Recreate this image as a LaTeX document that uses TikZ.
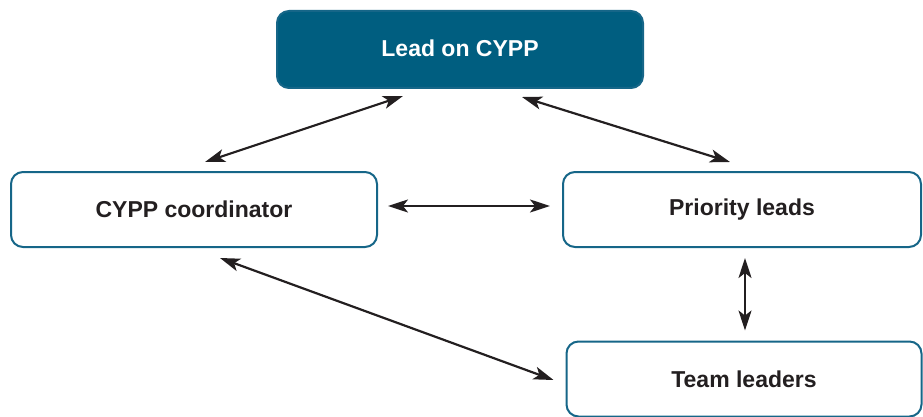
\documentclass[tikz,border=0pt]{standalone}
\usepackage{fontspec}
\setmainfont{Liberation Sans}
\usetikzlibrary{arrows.meta,calc}
\definecolor{teal}{RGB}{0,94,128}
\definecolor{edge}{RGB}{22,102,136}
\definecolor{ink}{RGB}{35,31,32}
\begin{document}
\begin{tikzpicture}[x=1pt,y=1pt,
  box/.style={draw=edge,line width=2pt,rounded corners=12pt,fill=white,
    minimum width=#1,minimum height=75pt,inner sep=0pt,outer sep=0pt,
    font=\fontsize{23}{27}\selectfont\bfseries,text=ink},
  leadbox/.style={box=366pt,fill=teal,draw=edge,text=white,minimum height=77pt},
  link/.style={draw=ink,line width=2.2pt,{Stealth[length=20pt,width=13pt,inset=5pt]}-{Stealth[length=20pt,width=13pt,inset=5pt]}}]
\useasboundingbox (0,0) rectangle (923,-417);
\node[leadbox] (lead) at (460,-49.5) {\raisebox{3pt}{Lead on CYPP}};
\node[box=366pt] (coord) at (194,-209.5) {CYPP coordinator};
\node[box=358pt] (prio) at (742,-209.5) {Priority leads};
\node[box=355pt] (team) at (744,-379) {Team leaders};
\draw[link] ($(coord.north)+(11,10)$) -- ($(lead.south)+(-57,-8)$);
\draw[link] ($(lead.south)+(62,-9)$) -- ($(prio.north)+(-12,10)$);
\draw[link] ($(coord.east)+(11,3.5)$) -- ($(prio.west)+(-13,3.5)$);
\draw[link] ($(prio.south)+(3,-11)$) -- ($(team.north)+(1,11)$);
\draw[link] ($(coord.south)+(26,-11)$) -- ($(team.west)+(-13,-1)$);
\end{tikzpicture}
\end{document}
